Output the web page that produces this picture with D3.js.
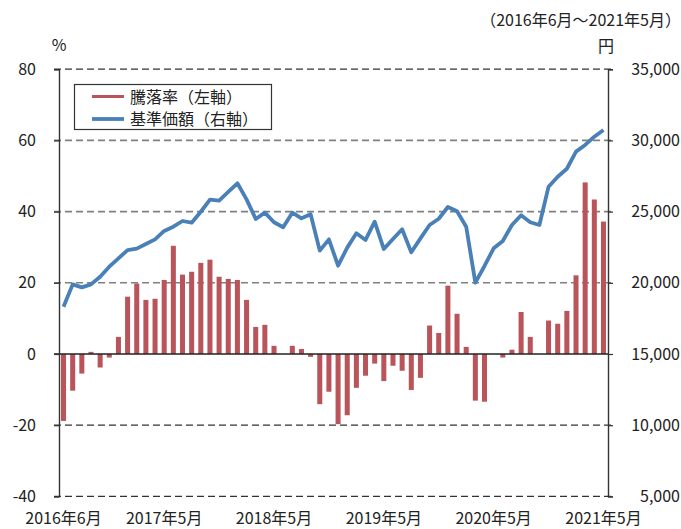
<!DOCTYPE html>
<html lang="ja">
<head>
<meta charset="UTF-8">
<title>騰落率と基準価額</title>
<script src="https://cdn.jsdelivr.net/npm/d3@7/dist/d3.min.js"></script>
<style>
  body { margin: 0; background: #fff; }
  svg text { font-family: "Noto Sans CJK JP", "Noto Sans", sans-serif; fill: #222; }
</style>
</head>
<body>
<svg id="chart" width="681" height="529"></svg>
<script>
// 2016年6月 ～ 2021年5月 (60 months)
var months = d3.range(60).map(function(i){
  var y = 2016 + Math.floor((5 + i) / 12), m = (5 + i) % 12 + 1;
  return y + "年" + m + "月";
});

// 騰落率 (%), left axis
var returns = [
  -18.8, -10.3, -5.5, 0.6, -3.8, -1.0, 4.8, 16.1, 19.8, 15.2,
  15.5, 20.8, 30.4, 22.3, 23.1, 25.6, 26.5, 21.7, 21.1, 20.8,
  15.2, 7.6, 8.2, 2.3, 0.0, 2.3, 1.4, -0.8, -14.1, -10.6,
  -19.7, -17.2, -9.5, -6.1, -2.7, -7.6, -3.3, -4.7, -10.1, -6.7,
  8.0, 5.9, 19.2, 11.3, 2.0, -13.1, -13.4, 0.0, -1.0, 1.2,
  11.8, 4.8, 0.0, 9.4, 8.5, 12.1, 22.1, 48.2, 43.4, 37.2
];

// 基準価額 (円), right axis
var nav = [
  18320, 19890, 19680, 19890, 20430, 21130, 21720, 22300, 22400, 22720,
  23050, 23640, 23940, 24340, 24220, 24990, 25840, 25770, 26380, 26990,
  25860, 24480, 24930, 24250, 23900, 24920, 24530, 24810, 22260, 23050,
  21200, 22470, 23480, 23010, 24290, 22370, 23080, 23760, 22140, 23120,
  24060, 24500, 25320, 25020, 23940, 20010, 21180, 22420, 22940, 24060,
  24740, 24250, 24060, 26750, 27450, 28010, 29210, 29680, 30260, 30730
];

var leftTicks = [80, 60, 40, 20, 0, -20, -40];
var rightTicks = [35000, 30000, 25000, 20000, 15000, 10000, 5000];
var xLabels = ["2016年6月", "2017年5月", "2018年5月", "2019年5月", "2020年5月", "2021年5月"];

var svg = d3.select("#chart");
var plotL = 59, plotR = 608, plotT = 69.2, plotB = 496.4;

var x = d3.scaleBand().domain(months).range([plotL, plotR]).paddingInner(0.45).paddingOuter(0.22);
var yL = d3.scaleLinear().domain([-40, 80]).range([plotB, plotT]);
var yR = d3.scaleLinear().domain([5000, 35000]).range([plotB, plotT]);
var cx = function(d){ return x(d) + x.bandwidth() / 2; };

// gridlines
svg.append("g").selectAll("line")
  .data(leftTicks.filter(function(d){ return d !== 0; }))
  .enter().append("line")
  .attr("x1", plotL - 5).attr("x2", plotR + 5)
  .attr("y1", function(d){ return yL(d); }).attr("y2", function(d){ return yL(d); })
  .attr("stroke", function(d){ return (d > 0 && d < 80) ? "#808080" : "#333"; })
  .attr("stroke-width", function(d){ return (d > 0 && d < 80) ? 1.6 : 1.2; })
  .attr("stroke-dasharray", "7,4");

// bars
svg.append("g").selectAll("rect")
  .data(returns)
  .enter().append("rect")
  .attr("x", function(d, i){ return x(months[i]); })
  .attr("width", x.bandwidth())
  .attr("y", function(d){ return yL(Math.max(d, 0)); })
  .attr("height", function(d){ return Math.abs(yL(d) - yL(0)); })
  .attr("fill", "#b9555a");

// zero line
svg.append("line")
  .attr("x1", plotL - 5).attr("x2", plotR)
  .attr("y1", yL(0)).attr("y2", yL(0))
  .attr("stroke", "#222").attr("stroke-width", 1.5);

// axes
var axL = svg.append("g").attr("transform", "translate(" + plotL + ",0)")
  .call(d3.axisLeft(yL).tickValues(leftTicks).tickSize(5).tickPadding(23)
    .tickFormat(function(d){ return String(d); }));
var axR = svg.append("g").attr("transform", "translate(" + plotR + ",0)")
  .call(d3.axisRight(yR).tickValues(rightTicks).tickSize(5).tickPadding(19).tickFormat(d3.format(",")));
[axL, axR].forEach(function(ax){
  ax.select(".domain").attr("stroke", "#333").attr("stroke-width", 1.4);
  ax.selectAll(".tick line").attr("stroke", "#333").attr("stroke-width", 1.2);
  ax.selectAll("text").attr("font-size", 16).attr("fill", "#222")
    .style("font-family", "'Noto Sans CJK JP', sans-serif");
});
axR.selectAll("text").attr("text-anchor", "end").attr("x", 680 - plotR);
axL.selectAll("text").attr("x", 36 - plotL);

// line
svg.append("path")
  .datum(nav)
  .attr("fill", "none")
  .attr("stroke", "#4a80b8")
  .attr("stroke-width", 3.8)
  .attr("stroke-linejoin", "round")
  .attr("d", d3.line().x(function(d, i){ return cx(months[i]); }).y(function(d){ return yR(d); }));

// x labels
svg.append("g").selectAll("text")
  .data(xLabels)
  .enter().append("text")
  .attr("x", function(d){ return cx(d); })
  .attr("y", 524)
  .attr("text-anchor", "middle")
  .attr("font-size", 16)
  .text(function(d){ return d; });

// units and period
svg.append("text").attr("x", 59).attr("y", 51).attr("text-anchor", "middle").attr("font-size", 16).text("%");
svg.append("text").attr("x", 606).attr("y", 52).attr("text-anchor", "middle").attr("font-size", 16).text("円");
svg.append("text").attr("x", 681).attr("y", 26).attr("text-anchor", "end").attr("font-size", 16).text("（2016年6月～2021年5月）");

// legend
var lg = svg.append("g");
lg.append("rect").attr("x", 74.5).attr("y", 84.5).attr("width", 197).attr("height", 45)
  .attr("fill", "#fff").attr("stroke", "#333").attr("stroke-width", 1.2);
var items = [["騰落率（左軸）", "#b9555a", 3], ["基準価額（右軸）", "#4a80b8", 3.8]];
items.forEach(function(it, i){
  var yy = 96.5 + i * 22.5;
  lg.append("line").attr("x1", 92).attr("x2", 124).attr("y1", yy).attr("y2", yy)
    .attr("stroke", it[1]).attr("stroke-width", it[2]);
  lg.append("text").attr("x", 130).attr("y", yy + 6).attr("font-size", 16).text(it[0]);
});
</script>
</body>
</html>
